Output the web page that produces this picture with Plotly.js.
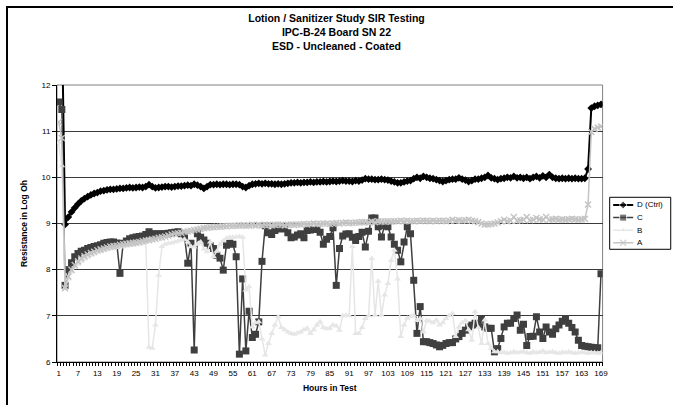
<!DOCTYPE html>
<html>
<head>
<meta charset="utf-8">
<script src="https://cdn.plot.ly/plotly-3.0.1.min.js"></script>
<style>
  html, body { margin:0; padding:0; background:#fff; overflow:hidden; }
  #frame { position:absolute; left:6px; top:6px; width:700px; height:430px; border:2px solid #000; box-sizing:border-box; pointer-events:none; z-index:2; }
  #chart { position:absolute; left:0; top:0; width:673px; height:405px; }
</style>
</head>
<body>
<div id="chart"></div>
<div id="frame"></div>
<script>
// Hours in test (category index)
const hours = [];
for (let h = 1; h <= 169; h++) hours.push(h);

const tickVals = [1,7,13,19,25,31,37,43,49,55,61,67,73,79,85,91,97,103,109,115,121,127,133,139,145,151,157,163,169];
const tickText = ['1','7','13','19','25','31','37','43','49','55','61','67','73','79','85','91','97','103','109','115','121','127','133','139','145','151','157','163','169'];

const seriesNames = ['D (Ctrl)', 'C', 'B', 'A'];

const seriesD = [
  13.5, 13.5, 8.98, 9.14, 9.25, 9.34, 9.42, 9.49, 9.54, 9.58,
  9.62, 9.65, 9.67, 9.70, 9.71, 9.73, 9.74, 9.74, 9.75, 9.76,
  9.76, 9.77, 9.78, 9.77, 9.78, 9.79, 9.78, 9.80, 9.84, 9.80,
  9.77, 9.78, 9.79, 9.80, 9.80, 9.79, 9.80, 9.81, 9.81, 9.82,
  9.83, 9.82, 9.85, 9.83, 9.80, 9.76, 9.80, 9.84, 9.84, 9.85,
  9.84, 9.85, 9.85, 9.84, 9.85, 9.85, 9.84, 9.80, 9.78, 9.82,
  9.85, 9.86, 9.87, 9.86, 9.87, 9.86, 9.86, 9.85, 9.86, 9.85,
  9.86, 9.87, 9.88, 9.88, 9.89, 9.88, 9.89, 9.89, 9.90, 9.89,
  9.90, 9.90, 9.91, 9.90, 9.91, 9.92, 9.91, 9.92, 9.93, 9.92,
  9.92, 9.91, 9.93, 9.92, 9.94, 9.97, 9.96, 9.96, 9.95, 9.95,
  9.96, 9.95, 9.94, 9.92, 9.90, 9.88, 9.88, 9.90, 9.92, 9.93,
  9.97, 10.0, 9.98, 10.02, 10.0, 9.98, 9.97, 9.95, 9.93, 9.91,
  9.93, 9.95, 9.96, 9.96, 9.99, 9.96, 9.94, 9.91, 9.93, 9.96,
  9.96, 9.98, 10.0, 10.04, 9.99, 9.97, 9.95, 9.97, 9.98, 10.0,
  9.99, 10.02, 9.99, 10.0, 9.98, 10.0, 9.97, 10.0, 10.02, 9.99,
  10.03, 10.0, 10.06, 10.0, 9.98, 9.97, 9.98, 9.97, 9.98, 9.97,
  9.98, 9.97, 9.97, 9.98, 10.18, 11.5, 11.54, 11.56, 11.58
];

const seriesC = [
  11.63, 11.47, 7.66, 8.0, 8.15, 8.28, 8.35, 8.40, 8.42, 8.46,
  8.48, 8.50, 8.52, 8.54, 8.57, 8.59, 8.60, 8.60, 8.58, 7.92,
  8.57, 8.62, 8.67, 8.69, 8.71, 8.72, 8.73, 8.76, 8.82, 8.77,
  8.78, 8.77, 8.78, 8.78, 8.79, 8.80, 8.81, 8.82, 8.78, 8.71,
  8.14, 8.57, 6.26, 8.78, 8.70, 8.64, 8.57, 8.52, 8.46, 8.31,
  8.25, 7.99, 8.53, 8.57, 8.55, 8.28, 6.17, 7.80, 6.24, 7.10,
  6.53, 6.60, 6.87, 8.18, 8.95, 8.80, 8.76, 8.85, 8.89, 8.88,
  8.89, 8.80, 8.69, 8.71, 8.75, 8.78, 8.69, 8.85, 8.86, 8.87,
  8.87, 8.81, 8.55, 8.66, 8.72, 8.91, 7.66, 8.46, 8.73, 8.77,
  8.78, 8.70, 8.63, 8.72, 8.81, 8.49, 8.83, 9.12, 9.12, 8.93,
  8.71, 8.95, 8.93, 8.71, 8.55, 8.42, 8.17, 8.60, 8.93, 8.78,
  7.77, 6.62, 7.20, 6.44, 6.44, 6.42, 6.40, 6.37, 6.33, 6.36,
  6.40, 6.42, 6.42, 6.50, 6.55, 6.62, 6.69, 6.76, 6.80, 6.84,
  6.80, 6.94, 6.76, 6.73, 6.73, 6.22, 6.29, 6.51, 6.76, 6.84,
  6.84, 6.94, 7.02, 6.69, 6.82, 6.36, 6.55, 6.56, 6.98, 6.65,
  6.51, 6.76, 6.65, 6.60, 6.72, 6.80, 6.88, 6.94, 6.84, 6.75,
  6.65, 6.47, 6.36, 6.34, 6.33, 6.32, 6.31, 6.31, 7.91
];

const seriesB = [
  10.75, 10.25, 7.60, 7.80, 7.95, 8.05, 8.12, 8.18, 8.23, 8.27,
  8.31, 8.34, 8.37, 8.39, 8.41, 8.43, 8.45, 8.46, 8.48, 8.49,
  8.50, 8.51, 8.52, 8.53, 8.54, 8.55, 8.56, 8.60, 6.32, 6.30,
  6.80, 7.88, 8.50, 8.55, 8.57, 8.58, 8.60, 8.62, 8.64, 8.66,
  8.60, 8.50, 8.49, 8.55, 8.60, 8.45, 8.39, 8.60, 8.28, 8.40,
  8.55, 8.62, 8.68, 8.70, 8.70, 8.71, 8.72, 8.70, 7.56, 7.63,
  6.76, 6.85, 6.87, 6.50, 6.15, 6.40, 6.62, 6.80, 6.98, 6.75,
  6.70, 6.65, 6.62, 6.60, 6.63, 6.65, 6.70, 6.73, 6.62, 6.70,
  6.80, 6.87, 6.75, 6.72, 6.73, 6.80, 6.78, 6.69, 7.00, 7.01,
  7.00, 8.50, 6.62, 6.62, 6.75, 6.94, 7.00, 8.24, 7.01, 7.75,
  7.01, 7.45, 7.70, 8.20, 8.42, 7.80, 6.55, 6.80, 6.95, 6.98,
  7.01, 6.90, 6.94, 6.65, 6.90, 6.88, 6.85, 6.91, 6.80, 6.85,
  6.94, 7.00, 7.05, 6.55, 6.76, 6.85, 6.90, 6.70, 6.47, 7.09,
  6.75, 6.40, 6.91, 6.40, 6.30, 6.22, 6.22, 6.20, 6.21, 6.19,
  6.20, 6.22, 6.20, 6.21, 6.23, 6.20, 6.19, 6.22, 6.20, 6.21,
  6.24, 6.20, 6.21, 6.22, 6.20, 6.19, 6.21, 6.20, 6.22, 6.20,
  6.19, 6.20, 6.21, 6.20, 6.19, 6.20, 6.20, 6.19, 6.20
];

const seriesA = [
  11.20, 10.85, 7.60, 7.85, 8.00, 8.10, 8.18, 8.24, 8.29, 8.33,
  8.36, 8.39, 8.42, 8.44, 8.46, 8.48, 8.50, 8.51, 8.52, 8.54,
  8.55, 8.56, 8.57, 8.58, 8.59, 8.60, 8.62, 8.63, 8.64, 8.66,
  8.67, 8.69, 8.70, 8.72, 8.74, 8.76, 8.78, 8.79, 8.80, 8.82,
  8.83, 8.84, 8.86, 8.87, 8.88, 8.90, 8.91, 8.92, 8.92, 8.93,
  8.93, 8.94, 8.94, 8.95, 8.95, 8.95, 8.96, 8.96, 8.95, 8.96,
  8.97, 8.96, 8.97, 8.96, 8.97, 8.97, 8.96, 8.97, 8.98, 8.97,
  8.96, 8.97, 8.98, 8.97, 8.98, 8.98, 8.99, 8.98, 8.99, 9.00,
  8.99, 8.99, 9.00, 9.00, 8.99, 9.00, 9.01, 9.00, 9.01, 9.02,
  9.01, 9.01, 9.02, 9.02, 9.03, 9.03, 9.02, 9.04, 9.03, 9.05,
  9.04, 9.04, 9.05, 9.04, 9.05, 9.05, 9.06, 9.05, 9.06, 9.05,
  9.05, 9.06, 9.05, 9.06, 9.06, 9.05, 9.06, 9.05, 9.06, 9.06,
  9.05, 9.06, 9.08, 9.06, 9.07, 9.06, 9.07, 9.08, 9.06, 9.05,
  9.03, 9.00, 8.98, 8.98, 8.99, 9.00, 9.02, 9.05, 9.08, 9.05,
  9.06, 9.14, 9.06, 9.07, 9.08, 9.14, 9.07, 9.08, 9.12, 9.09,
  9.08, 9.14, 9.08, 9.09, 9.10, 9.08, 9.09, 9.08, 9.09, 9.10,
  9.09, 9.08, 9.09, 9.10, 9.41, 10.98, 11.05, 11.08, 11.10
];

const styles = [
  { line: { color: '#000000', width: 2 },   marker: { symbol: 'diamond', size: 6, color: '#000000' } },
  { line: { color: '#3f3f3f', width: 1.5 }, marker: { symbol: 'square', size: 7, color: '#3f3f3f' } },
  { line: { color: '#e6e6e6', width: 1.5 }, marker: { symbol: 'triangle-up', size: 6, color: '#e6e6e6' } },
  { line: { color: '#c4c4c4', width: 1.5 }, marker: { symbol: 'x-thin-open', size: 6, color: '#c4c4c4', line: { color: '#c4c4c4', width: 1.5 } } }
];

const allSeries = [seriesD, seriesC, seriesB, seriesA];
const traces = allSeries.map((vals, i) => ({
  name: seriesNames[i], x: hours, y: vals, type: 'scatter', mode: 'lines+markers',
  line: styles[i].line, marker: styles[i].marker, showlegend: false,
  xaxis: 'x', yaxis: 'y'
}));

// Legend key (drawn on a hidden helper axis placed where the legend box sits)
const annotations = [];
seriesNames.forEach((nm, i) => {
  const row = 7.7 + i * 12.6;
  const mk = Object.assign({}, styles[i].marker, { size: [0, styles[i].marker.size, 0] });
  traces.push({
    x: [3.5, 13.5, 23.5], y: [row, row, row], type: 'scatter', mode: 'lines+markers',
    line: styles[i].line, marker: mk, showlegend: false, hoverinfo: 'skip',
    xaxis: 'x2', yaxis: 'y2', cliponaxis: false
  });
  annotations.push({
    x: 25, y: row, xref: 'x2', yref: 'y2', text: nm, showarrow: false,
    xanchor: 'left', yanchor: 'middle', font: { size: 8, color: '#000' }
  });
});

const layout = {
  width: 673, height: 405,
  margin: { l: 57, r: 0, t: 85, b: 43, pad: 0 },
  paper_bgcolor: '#ffffff', plot_bgcolor: '#ffffff',
  font: { family: 'Liberation Sans, Arial, sans-serif', size: 8, color: '#000' },
  showlegend: false,
  title: {
    text: '<b>Lotion / Sanitizer Study SIR Testing</b><br><b>IPC-B-24 Board SN 22</b><br><b>ESD - Uncleaned - Coated</b>',
    font: { size: 10.5, color: '#000' },
    x: 0.5, xref: 'container', xanchor: 'center',
    y: 0.945, yref: 'container', yanchor: 'top'
  },
  xaxis: {
    domain: [0, 0.8857], anchor: 'y',
    range: [0.5, 169.5], tickmode: 'array', tickvals: tickVals, ticktext: tickText,
    ticks: '', showline: true, linecolor: '#000', linewidth: 1,
    showgrid: false, zeroline: false, tickfont: { size: 8 },
    ticklabelstandoff: 3,
    minor: { tickmode: 'linear', tick0: 0.5, dtick: 1, ticks: 'outside', ticklen: 3, tickcolor: '#000', tickwidth: 1, showgrid: false },
    title: { text: '<b>Hours in Test</b>', font: { size: 8.5 }, standoff: 8 }
  },
  yaxis: {
    domain: [0, 1], anchor: 'x',
    range: [6, 12], dtick: 1, tick0: 6, ticks: 'outside', ticklen: 4, tickcolor: '#000',
    showline: true, linecolor: '#000', linewidth: 1,
    showgrid: true, gridcolor: '#3a3a3a', gridwidth: 1, zeroline: false,
    tickfont: { size: 8 },
    title: { text: '<b>Resistance in Log Oh</b>', font: { size: 8.5 }, standoff: 12 }
  },
  xaxis2: { domain: [0.8972, 0.9963], anchor: 'y2', range: [0, 61], visible: false, fixedrange: true },
  yaxis2: { domain: [0.4069, 0.5946], anchor: 'x2', range: [52, 0], visible: false, fixedrange: true },
  shapes: [
    { type: 'rect', xref: 'x domain', yref: 'y domain', x0: 0, x1: 1, y0: 0, y1: 1,
      line: { color: '#808080', width: 1 }, layer: 'below' },
    { type: 'rect', xref: 'x2 domain', yref: 'y2 domain', x0: 0, x1: 1, y0: 0, y1: 1,
      line: { color: '#000', width: 1 }, fillcolor: '#fff', layer: 'below' }
  ],
  annotations: annotations
};

Plotly.newPlot('chart', traces, layout, { displayModeBar: false, staticPlot: true });
</script>
</body>
</html>
